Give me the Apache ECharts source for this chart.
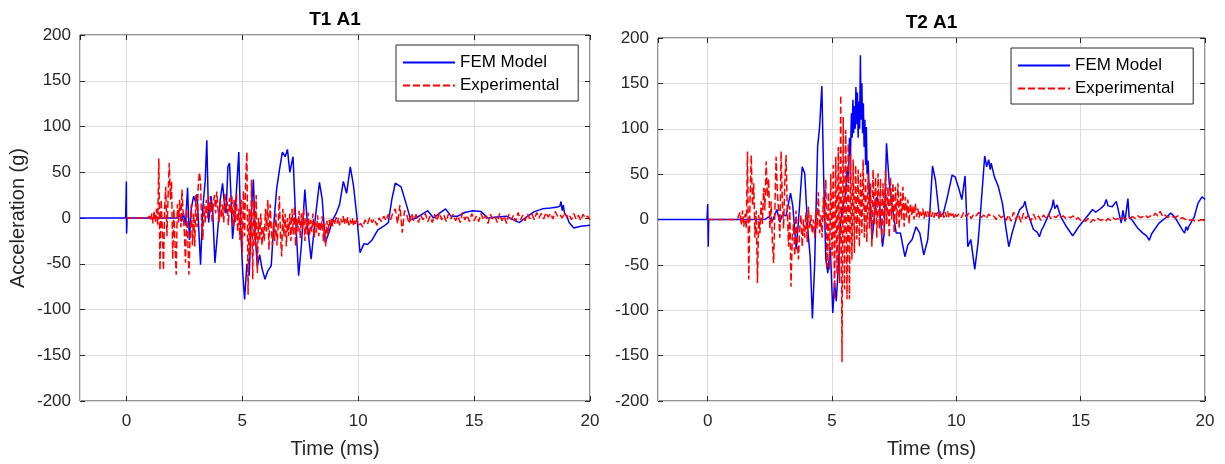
<!DOCTYPE html>
<html>
<head>
<meta charset="utf-8">
<script src="https://cdn.jsdelivr.net/npm/echarts@6/dist/echarts.min.js"></script>
<style>
  html, body { margin: 0; padding: 0; background: #fff; }
  #chart { width: 1225px; height: 464px; }
</style>
</head>
<body>
<div id="chart"></div>
<script>
// Axis ranges
const timeMin = -2, timeMax = 20;
const accMin = -200, accMax = 200, accStep = 50;
const seriesNames = ['FEM Model', 'Experimental'];
const panelTitles = ['T1 A1', 'T2 A1'];

// T1 A1 - FEM model response, [time (ms), acceleration (g)]
const t1Fem = [
  [-2,0],[-0.03,0],[0,40],[0.01,-17],[0.03,0],[2.2,0],[2.3,3],[2.38,-4],[2.46,6],[2.55,-8],
  [2.64,33],[2.72,-24],[2.8,10],[2.9,24],[2.98,18],[3.05,26],[3.2,-51],[3.3,12],[3.4,40],[3.47,85],
  [3.55,-5],[3.65,24],[3.72,10],[3.82,-49],[3.92,-20],[4.05,20],[4.15,38],[4.25,10],[4.3,5],[4.38,56],
  [4.45,60],[4.52,20],[4.58,-23],[4.7,10],[4.85,72],[4.93,-10],[5.02,-60],[5.1,-89],[5.2,-50],[5.3,-63],
  [5.4,10],[5.48,42],[5.56,-20],[5.65,-53],[5.75,-40],[5.85,-55],[5.98,-67],[6.1,-58],[6.25,-52],[6.35,-10],
  [6.48,31],[6.6,52],[6.73,72],[6.85,67],[6.95,75],[7.05,50],[7.19,67],[7.3,0],[7.43,-63],[7.55,-30],
  [7.7,31],[7.82,-10],[7.97,-45],[8.15,0],[8.33,39],[8.45,20],[8.58,-27],[8.75,-15],[8.9,-2],[9.05,5],
  [9.2,15],[9.36,40],[9.5,27],[9.66,56],[9.8,35],[9.95,0],[10.08,-38],[10.25,-28],[10.4,-29],[10.6,-24],
  [10.85,-13],[11.1,-9],[11.3,-5],[11.45,20],[11.6,38],[11.85,34],[12.1,13],[12.26,-2],[12.5,0],[12.75,4],
  [13.0,8],[13.25,0],[13.5,5],[13.77,10],[14.0,2],[14.3,2],[14.6,6],[14.94,8],[15.3,7],[15.6,0],
  [16.0,1],[16.4,2],[16.7,-2],[16.95,-5],[17.2,0],[17.6,7],[17.95,10],[18.3,11],[18.6,12],[18.7,13],
  [18.75,18],[18.8,8],[18.85,14],[18.9,5],[19.0,2],[19.1,-5],[19.3,-11],[19.6,-9],[20,-8]
];

// T1 A1 - experimental record, sampled every 0.05 ms from 0 to 10 ms
const t1ExpEarly = [
  0,0,0,0,0,0,0,0,0,0,0,0,0,0,0,0,0,0,0,1,
  2,-3,5,-6,8,-4,10,-8,65,-57,20,-10,-57,10,34,-20,25,60,20,40,
  -45,10,-30,-62,15,-5,20,-10,31,5,-15,-49,10,-25,-62,-20,15,-30,5,-31,
  25,-10,35,50,40,-10,-24,15,-5,20,0,24,5,20,-5,15,25,5,29,10,
  -5,20,0,15,-5,27,10,18,-8,22,5,25,-10,20,-5,27,-15,10,-24,20,
  -38,30,-20,45,72,-84,10,-40,42,-67,20,-30,25,-60,0,-25,5,-30,-10,-25,
  10,-15,20,-35,15,-10,-30,-5,-25,5,-30,-8,24,-20,-42,10,-20,5,-31,0,
  -20,5,-25,10,-18,13,-31,0,-15,8,-22,5,-12,10,-25,0,-18,6,-20,-2,
  -15,5,-22,-5,-16,3,-20,-4,-14,2,-25,-6,-31,-3,-18,-2,-10,0,-9,-2,
  -7,1,-6,0,-8,-1,-5,2,-7,-1,-6,1,-8,-2,-6,0,-9,-3,-7,-1,
  -8
];
// T1 A1 - experimental record, sampled every 0.1 ms from 10.1 to 20 ms
const t1ExpLate = [
  -6,-10,-2,-7,1,-5,-1,-8,0,-4,
  2,-3,4,-2,6,10,-6,14,-16,8,
  3,-6,5,-3,4,-5,3,-2,5,-4,
  2,-5,4,-3,6,-2,3,-4,5,-1,
  4,-3,2,-5,6,-2,3,-4,5,-3,
  2,-4,5,-2,3,-6,4,-1,2,-5,
  5,-3,2,-6,4,-2,3,-4,6,-2,
  3,-3,5,-1,4,-2,6,0,5,-1,
  6,1,5,-1,7,2,4,0,6,1,
  4,-2,5,-1,3,-3,4,0,2,-2
];

// T2 A1 - FEM model response, [time (ms), acceleration (g)]
const t2Fem = [
  [-2,0],[-0.03,0],[0,17],[0.02,-30],[0.04,0],[2.3,0],[2.45,3],[2.6,-2],[2.78,11],[2.9,-3],
  [3.0,5],[3.15,4],[3.33,29],[3.42,15],[3.56,-33],[3.68,10],[3.8,58],[3.9,51],[4.02,-10],[4.12,-41],
  [4.21,-109],[4.3,-50],[4.42,80],[4.5,102],[4.59,147],[4.66,50],[4.75,-44],[4.83,-59],[4.93,-30],[5.03,-103],
  [5.1,-70],[5.17,-90],[5.25,-52],[5.35,0],[5.45,15],[5.55,30],[5.62,58],[5.66,40],[5.7,90],[5.74,70],
  [5.78,117],[5.81,90],[5.84,132],[5.87,95],[5.9,125],[5.93,100],[5.96,146],[5.99,105],[6.02,140],[6.05,90],
  [6.08,130],[6.11,100],[6.14,181],[6.17,110],[6.2,150],[6.23,95],[6.26,128],[6.29,80],[6.32,110],[6.35,60],
  [6.38,102],[6.41,50],[6.45,65],[6.5,30],[6.55,10],[6.61,-22],[6.72,7],[6.8,25],[6.92,14],[7.03,-30],
  [7.1,-15],[7.19,84],[7.3,40],[7.42,15],[7.58,-15],[7.75,-15],[7.93,-41],[8.05,-28],[8.22,-22],[8.38,-8],
  [8.53,-15],[8.69,-39],[8.85,-22],[8.93,7],[9.04,59],[9.16,43],[9.32,3],[9.48,7],[9.64,25],[9.83,49],
  [9.95,47],[10.11,33],[10.22,22],[10.35,48],[10.46,-30],[10.58,-22],[10.74,-55],[10.87,-26],[10.98,11],[11.14,70],
  [11.22,58],[11.3,66],[11.36,55],[11.4,62],[11.53,47],[11.69,36],[11.85,18],[11.93,3],[12.0,-11],[12.11,-30],
  [12.24,-15],[12.4,0],[12.55,11],[12.7,15],[12.76,20],[12.82,12],[12.87,7],[13.1,-11],[13.25,-14],[13.34,-19],
  [13.42,-12],[13.5,-8],[13.74,7],[13.85,14],[13.9,22],[13.96,12],[14.05,16],[14.2,3],[14.43,-8],[14.68,-18],
  [14.92,-8],[15.16,0],[15.48,11],[15.6,8],[15.8,12],[15.95,16],[16.03,22],[16.1,15],[16.27,14],[16.43,20],
  [16.5,12],[16.58,14],[16.63,-4],[16.7,10],[16.78,-2],[16.9,23],[16.95,2],[17.05,0],[17.28,-9],[17.5,-15],
  [17.65,-18],[17.76,-23],[17.85,-16],[17.92,-15],[18.15,-4],[18.47,3],[18.62,7],[18.78,3],[19.02,-8],[19.1,-12],
  [19.18,-15],[19.24,-8],[19.3,-12],[19.34,-8],[19.57,3],[19.72,18],[19.88,25],[20,22]
];

// T2 A1 - experimental record, sampled every 0.05 ms from 0 to 10 ms
const t2ExpEarly = [
  0,0,0,0,0,0,0,0,0,0,0,0,0,0,0,0,0,0,0,0,
  0,0,0,0,1,-1,8,-6,10,-8,6,-10,75,-66,20,71,15,40,-20,10,
  -70,5,-15,20,-5,35,10,64,25,45,-10,20,-25,-48,10,69,30,10,-20,75,
  20,-10,40,71,10,-30,15,-74,-20,-5,-40,10,-25,-44,-10,5,-30,0,-20,8,
  -25,14,-10,5,-15,0,-20,10,-10,30,-15,5,-20,25,-5,44,-52,30,-55,50,
  -40,60,-88,69,-60,80,-70,137,-157,113,-77,99,-88,84,-88,73,-44,66,-37,60,
  -22,55,-30,51,-15,66,-20,45,-25,51,-10,40,-30,55,-5,47,-20,51,-10,45,
  -25,40,-15,55,-5,36,-20,47,0,40,-15,36,-5,40,-10,30,0,36,-8,25,
  2,22,-5,18,5,15,0,18,3,12,2,10,4,12,1,10,3,9,2,10,
  3,8,2,9,4,8,1,9,3,7,2,8,3,9,2,7,4,8,2,7,
  3
];
// T2 A1 - experimental record, sampled every 0.1 ms from 10.1 to 20 ms
const t2ExpLate = [
  6,2,8,3,7,1,6,4,8,2,
  5,1,6,3,4,0,5,2,4,-1,
  5,-2,8,0,6,-3,7,1,5,-2,
  6,0,4,-1,5,2,6,1,4,2,
  5,2,4,1,3,2,4,0,2,-1,
  0,-2,1,-3,0,-2,1,-1,0,-2,
  1,-1,2,0,1,-1,2,1,0,2,
  3,1,4,2,3,5,2,4,3,7,
  4,9,3,5,2,4,3,2,4,1,
  2,0,1,-1,0,-2,-1,-1,0,-2
];

// Turn a uniformly sampled record into [time, value] pairs
function sampled(start, step, values) {
  return values.map((v, i) => [+(start + i * step).toFixed(2), v]);
}

const FONT = '"Liberation Sans", Arial, Helvetica, sans-serif';
const INK = '#262626';
const GRID_LINE = '#dcdcdc';

const panels = [
  {
    grid: { left: 80, top: 35, width: 510, height: 367 },
    legendPos: { left: 396, top: 45 },
    fem: t1Fem,
    exp: sampled(0, 0.05, t1ExpEarly).concat(sampled(10.1, 0.1, t1ExpLate)),
    yName: 'Acceleration (g)'
  },
  {
    grid: { left: 658, top: 38, width: 547, height: 364 },
    legendPos: { left: 1011, top: 48 },
    fem: t2Fem,
    exp: sampled(0, 0.05, t2ExpEarly).concat(sampled(10.1, 0.1, t2ExpLate)),
    yName: ''
  }
];

const tickStyle = { show: true, inside: true, length: 5, lineStyle: { color: INK, width: 1 } };
const noLine = { show: false, onZero: false };
const labelStyle = { color: INK, fontSize: 17, fontFamily: FONT };

const grids = [], xAxes = [], yAxes = [], series = [], legends = [], graphics = [];

panels.forEach((p, i) => {
  grids.push(Object.assign({ show: true, borderColor: INK, borderWidth: 1, backgroundColor: '#fff' }, p.grid));

  // bottom (labelled) and top (ticks only) time axes
  xAxes.push({
    gridIndex: i, type: 'value', min: timeMin, max: timeMax, position: 'bottom',
    axisLine: noLine, axisTick: tickStyle,
    axisLabel: Object.assign({ margin: 12, showMinLabel: false }, labelStyle),
    splitLine: { show: true, lineStyle: { color: GRID_LINE, width: 1 } },
    name: 'Time (ms)', nameLocation: 'middle', nameGap: 38,
    nameTextStyle: { color: INK, fontSize: 20, fontFamily: FONT }
  });
  xAxes.push({
    gridIndex: i, type: 'value', min: timeMin, max: timeMax, position: 'top',
    axisLine: noLine, axisTick: tickStyle,
    axisLabel: { show: false }, splitLine: { show: false }
  });

  // left (labelled) and right (ticks only) acceleration axes
  yAxes.push({
    gridIndex: i, type: 'value', min: accMin, max: accMax, interval: accStep, position: 'left',
    axisLine: noLine, axisTick: tickStyle,
    axisLabel: Object.assign({ margin: 9 }, labelStyle),
    splitLine: { show: true, lineStyle: { color: GRID_LINE, width: 1 } },
    name: p.yName, nameLocation: 'middle', nameGap: 52,
    nameTextStyle: { color: INK, fontSize: 20, fontFamily: FONT }
  });
  yAxes.push({
    gridIndex: i, type: 'value', min: accMin, max: accMax, interval: accStep, position: 'right',
    axisLine: noLine, axisTick: tickStyle,
    axisLabel: { show: false }, splitLine: { show: false }
  });

  series.push({
    name: seriesNames[0], type: 'line', xAxisIndex: i * 2, yAxisIndex: i * 2,
    data: p.fem, showSymbol: false, symbol: 'none', silent: true,
    lineStyle: { color: '#0000ff', width: 1.5 }, itemStyle: { color: '#0000ff' }
  });
  series.push({
    name: seriesNames[1], type: 'line', xAxisIndex: i * 2, yAxisIndex: i * 2,
    data: p.exp, showSymbol: false, symbol: 'none', silent: true,
    lineStyle: { color: '#ff0000', width: 1.5, type: [7, 3] }, itemStyle: { color: '#ff0000' }
  });

  legends.push(Object.assign({
    orient: 'vertical', data: seriesNames, selectedMode: false,
    itemWidth: 52, itemHeight: 14, itemGap: 6, padding: [9, 19, 7, 6],
    borderColor: INK, borderWidth: 1, backgroundColor: '#fff',
    itemStyle: { opacity: 0, borderWidth: 0 },
    textStyle: { color: '#000', fontSize: 17, fontFamily: FONT }
  }, p.legendPos));

  graphics.push({
    type: 'text', x: p.grid.left + p.grid.width / 2, y: p.grid.top - 15,
    style: {
      text: panelTitles[i], align: 'center', verticalAlign: 'middle',
      font: 'bold 19px ' + FONT, fill: '#000'
    }
  });
});

const chart = echarts.init(document.getElementById('chart'), null, { renderer: 'canvas' });
chart.setOption({
  animation: false,
  backgroundColor: '#fff',
  grid: grids,
  xAxis: xAxes,
  yAxis: yAxes,
  legend: legends,
  graphic: graphics,
  series: series
});
</script>
</body>
</html>
